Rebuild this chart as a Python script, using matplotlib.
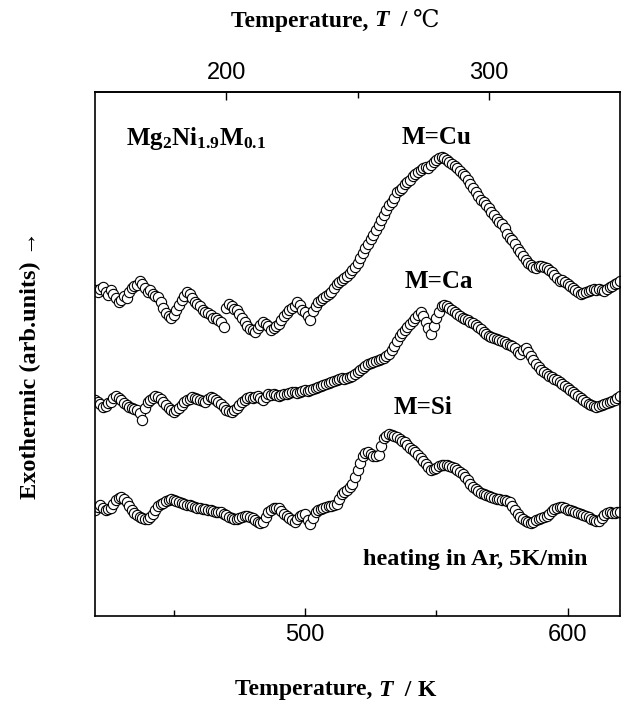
import numpy as np
import matplotlib
matplotlib.use('Agg')
import matplotlib.pyplot as plt
from matplotlib.ticker import FixedLocator, NullFormatter
from matplotlib.offsetbox import TextArea, HPacker, AnnotationBbox

# temperature grid (K) and DSC traces (arb. units)
temp_K = np.arange(420, 621, 1)

cu = [326, 324, 327, 329, 324, 321, 326, 322, 318, 314,
      316, 320, 318, 324, 328, 330, 331, 335, 332, 328,
      324, 326, 322, 320, 319, 314, 308, 303, 300, 298,
      301, 306, 311, 316, 320, 324, 322, 318, 314, 312,
      310, 306, 304, 303, 301, 298, 298, 296, 294, 289,
      308, 312, 310, 307, 306, 302, 298, 294, 290, 287,
      286, 284, 288, 291, 294, 292, 290, 286, 288, 290,
      292, 296, 300, 303, 306, 308, 310, 314, 311, 306,
      304, 300, 296, 305, 310, 314, 316, 318, 320, 322,
      324, 328, 332, 334, 336, 338, 340, 343, 346, 349,
      353, 358, 363, 368, 372, 377, 381, 386, 391, 396,
      401, 406, 411, 414, 418, 424, 426, 428, 432, 434,
      436, 440, 442, 444, 446, 448, 449, 448, 451, 454,
      456, 458, 459, 458, 456, 454, 452, 450, 448, 445,
      442, 440, 436, 432, 428, 424, 420, 416, 414, 411,
      408, 404, 401, 397, 394, 392, 388, 382, 378, 376,
      372, 367, 364, 360, 356, 353, 351, 349, 348, 350,
      350, 349, 348, 346, 344, 341, 338, 335, 336, 334,
      332, 330, 328, 326, 324, 322, 323, 324, 325, 326,
      327, 326, 327, 326, 325, 327, 329, 330, 332, 333,
      335]

ca = [216, 214, 212, 209, 210, 213, 214, 218, 220, 218,
      216, 213, 211, 209, 208, 207, 206, 203, 196, 208,
      214, 216, 218, 220, 219, 217, 214, 211, 208, 206,
      204, 206, 208, 211, 214, 216, 217, 219, 218, 217,
      216, 215, 214, 217, 219, 218, 216, 214, 212, 209,
      206, 205, 204, 206, 208, 211, 214, 216, 218, 219,
      218, 219, 220, 218, 216, 219, 222, 221, 222, 221,
      220, 221, 222, 222, 223, 224, 224, 223, 224, 225,
      226, 225, 226, 227, 228, 229, 230, 231, 232, 233,
      234, 235, 236, 237, 238, 237, 238, 239, 240, 242,
      244, 246, 248, 250, 252, 253, 254, 255, 256, 257,
      258, 260, 262, 266, 270, 275, 280, 283, 286, 289,
      292, 295, 298, 301, 304, 300, 294, 288, 282, 290,
      298, 304, 310, 311, 310, 308, 306, 304, 302, 300,
      298, 297, 296, 294, 293, 291, 289, 287, 284, 282,
      280, 279, 278, 277, 276, 275, 274, 272, 271, 270,
      268, 264, 262, 266, 268, 264, 260, 256, 252, 249,
      246, 244, 242, 240, 239, 237, 236, 234, 232, 230,
      228, 226, 224, 222, 220, 218, 216, 214, 212, 211,
      210, 209, 210, 211, 212, 213, 214, 215, 216, 218,
      220]

si = [106, 109, 111, 108, 106, 107, 108, 112, 116, 118,
      119, 117, 114, 110, 106, 103, 101, 99, 98, 97,
      97, 99, 102, 106, 110, 112, 113, 115, 116, 117,
      116, 115, 114, 113, 112, 111, 111, 110, 109, 108,
      108, 107, 107, 106, 106, 105, 104, 104, 104, 102,
      101, 99, 98, 97, 97, 98, 99, 100, 100, 99,
      98, 96, 94, 93, 94, 99, 104, 106, 108, 108,
      108, 105, 102, 100, 98, 96, 94, 97, 100, 101,
      102, 96, 92, 98, 104, 106, 107, 108, 109, 110,
      110, 111, 112, 117, 122, 124, 126, 129, 132, 139,
      146, 153, 160, 163, 164, 162, 160, 160, 161, 170,
      178, 180, 182, 181, 180, 179, 177, 175, 174, 171,
      168, 166, 164, 161, 158, 155, 152, 149, 146, 147,
      148, 150, 151, 151, 151, 150, 149, 148, 146, 144,
      142, 139, 136, 132, 129, 127, 125, 123, 122, 121,
      120, 119, 118, 117, 117, 116, 116, 115, 114, 110,
      106, 102, 99, 97, 95, 94, 93, 94, 96, 97,
      98, 99, 100, 102, 105, 107, 108, 109, 109, 108,
      106, 106, 105, 104, 103, 102, 101, 100, 99, 97,
      96, 95, 95, 98, 101, 103, 104, 103, 103, 104,
      104]

serif = ['Liberation Serif', 'DejaVu Serif', 'Noto Sans CJK SC']
plt.rcParams['mathtext.fontset'] = 'custom'
plt.rcParams['mathtext.bf'] = 'Liberation Serif:bold'
plt.rcParams['mathtext.rm'] = 'Liberation Serif:bold'

fig = plt.figure(figsize=(6.27, 7.04), dpi=100)
ax = fig.add_axes([95 / 627, 1 - 616 / 704, 525 / 627, 524 / 704])

for trace in (cu, ca, si):
    ax.plot(temp_K, trace, 'o', ms=7.4, mfc='white', mec='black', mew=0.8)

ax.set_xlim(420, 620)
ax.set_ylim(0, 524)
ax.set_yticks([])
for s in ax.spines.values():
    s.set_linewidth(1.2)

ax.xaxis.set_major_locator(FixedLocator([500, 600]))
ax.xaxis.set_minor_locator(FixedLocator([450, 550]))
ax.xaxis.set_minor_formatter(NullFormatter())
ax.tick_params(axis='x', which='major', direction='in', length=6, width=1,
               labelsize=17, pad=6)
ax.tick_params(axis='x', which='minor', direction='in', length=4.5, width=1)
for lab in ax.get_xticklabels():
    lab.set_family('Liberation Sans')

# upper Celsius scale (as drawn in the original figure)
top = ax.secondary_xaxis('top', functions=(lambda k: k - 270, lambda c: c + 270))
top.xaxis.set_major_locator(FixedLocator([200, 300]))
top.xaxis.set_minor_locator(FixedLocator([250]))
top.xaxis.set_minor_formatter(NullFormatter())
top.tick_params(axis='x', which='major', direction='in', length=6, width=1,
                labelsize=17, pad=6)
top.tick_params(axis='x', which='minor', direction='in', length=4.5, width=1)
top.spines['top'].set_linewidth(1.2)
for lab in top.get_xticklabels():
    lab.set_family('Liberation Sans')


def axis_title(unit, y):
    parts = [TextArea('Temperature, ', textprops=dict(family=serif, weight='bold', size=17)),
             TextArea('T', textprops=dict(family=serif, weight='bold', style='italic', size=17)),
             TextArea('  / ', textprops=dict(family=serif, weight='bold', size=17)),
             TextArea(unit, textprops=dict(family=serif, weight='bold' if unit == 'K' else 'normal',
                                           size=17))]
    box = HPacker(children=parts, align='baseline', pad=0, sep=0)
    fig.add_artist(AnnotationBbox(box, (0.535, y), xycoords='figure fraction',
                                  frameon=False, box_alignment=(0.5, 0.5)))


axis_title('℃', 1 - 21 / 704)
axis_title('K', 1 - 690 / 704)

fig.text(30 / 627, 1 - 365 / 704, 'Exothermic (arb.units) →', rotation=90,
         ha='center', va='center', family=serif, weight='bold', size=17.5)

ax.text(432, 478, r'$\mathbf{Mg_2Ni_{1.9}M_{0.1}}$', ha='left', va='center', size=18)
ax.text(550, 478, 'M=Cu', ha='center', va='center', family=serif, weight='bold', size=18)
ax.text(551, 335, 'M=Ca', ha='center', va='center', family=serif, weight='bold', size=18)
ax.text(545, 208, 'M=Si', ha='center', va='center', family=serif, weight='bold', size=18)
ax.text(522, 56, 'heating in Ar, 5K/min', ha='left', va='center', family=serif,
        weight='bold', size=17.5)

fig.savefig('out.png', dpi=100)
